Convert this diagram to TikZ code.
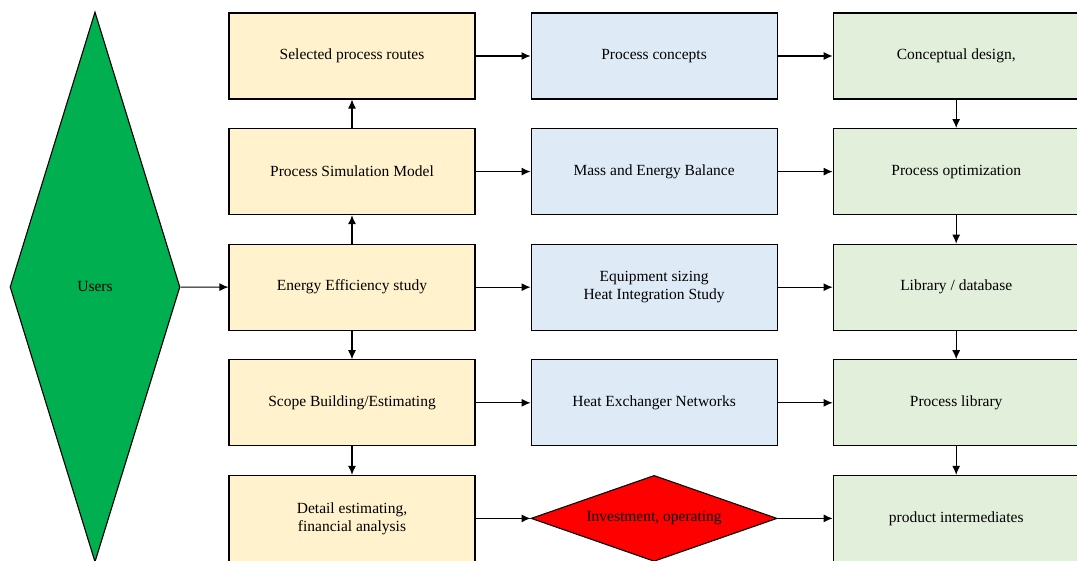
\documentclass[tikz,border=0pt]{standalone}
\usepackage{fontspec}
\setmainfont{Liberation Serif}
\usepackage{tikz}
\usepackage{xcolor}
\usetikzlibrary{positioning,shapes.geometric,arrows.meta}
\definecolor{routeyellow}{HTML}{FFF2CC}
\definecolor{conceptblue}{HTML}{DEEBF7}
\definecolor{designgreen}{HTML}{E2EFDA}
\definecolor{usersgreen}{HTML}{00B050}
\tikzset{
    flow-box/.style = {draw=black, line width=1.1pt, rectangle, minimum width=246pt, minimum height=86pt, inner sep=2pt, align=center, font=\fontsize{15.5}{18}\selectfont},
    route-box/.style = {flow-box, fill=routeyellow},
    concept-box/.style = {flow-box, fill=conceptblue},
    design-box/.style = {flow-box, fill=designgreen},
    users-diamond/.style = {draw=black, line width=1.1pt, diamond, fill=usersgreen, inner sep=0pt, minimum width=170pt, minimum height=550pt, font=\fontsize{15.5}{18}\selectfont},
    cost-diamond/.style = {draw=black, line width=1.1pt, diamond, shape aspect=2.86, fill=red, inner sep=0pt, minimum width=246pt, minimum height=86pt, font=\fontsize{15.5}{18}\selectfont},
    flow-arrow/.style = {draw=black, line width=1.1pt, -{Latex[length=9pt,width=8pt]}},
}

\begin{document}
\begin{tikzpicture}[x=1pt, y=1pt, node distance=28.5pt and 55pt]
\useasboundingbox (0,0) rectangle (1077,-561);

% first column
\node [route-box] (routes) at (352,-56) {Selected process routes};
\node [route-box, below=of routes] (simulation) {Process Simulation Model};
\node [route-box, below=of simulation] (efficiency) {Energy Efficiency study};
\node [route-box, below=of efficiency] (scope) {Scope Building/Estimating};
\node [route-box, below=of scope] (detail) {Detail estimating,\\financial analysis};

% second column
\node [concept-box, right=of routes] (concepts) {Process concepts};
\node [concept-box, right=of simulation] (balance) {Mass and Energy Balance};
\node [concept-box, right=of efficiency] (sizing) {Equipment sizing\\Heat Integration Study};
\node [concept-box, right=of scope] (networks) {Heat Exchanger Networks};
\node [cost-diamond, right=of detail] (investment) {Investment, operating};

% third column
\node [design-box, right=of concepts] (conceptual) {Conceptual design,};
\node [design-box, right=of balance] (optimization) {Process optimization};
\node [design-box, right=of sizing] (database) {Library / database};
\node [design-box, right=of networks] (library) {Process library};
\node [design-box, right=of investment] (intermediates) {product intermediates};

\node [users-diamond] (users) at (95,-287) {Users};

\draw [flow-arrow] (users) -- (efficiency);
\draw [flow-arrow] (efficiency) -- (simulation);
\draw [flow-arrow] (simulation) -- (routes);
\draw [flow-arrow] (efficiency) -- (scope);
\draw [flow-arrow] (scope) -- (detail);

\draw [flow-arrow] (routes) -- (concepts);
\draw [flow-arrow] (simulation) -- (balance);
\draw [flow-arrow] (efficiency) -- (sizing);
\draw [flow-arrow] (scope) -- (networks);
\draw [flow-arrow] (detail) -- (investment);

\draw [flow-arrow] (concepts) -- (conceptual);
\draw [flow-arrow] (balance) -- (optimization);
\draw [flow-arrow] (sizing) -- (database);
\draw [flow-arrow] (networks) -- (library);
\draw [flow-arrow] (investment) -- (intermediates);

\draw [flow-arrow] (conceptual) -- (optimization);
\draw [flow-arrow] (optimization) -- (database);
\draw [flow-arrow] (database) -- (library);
\draw [flow-arrow] (library) -- (intermediates);
\end{tikzpicture}
\end{document}
